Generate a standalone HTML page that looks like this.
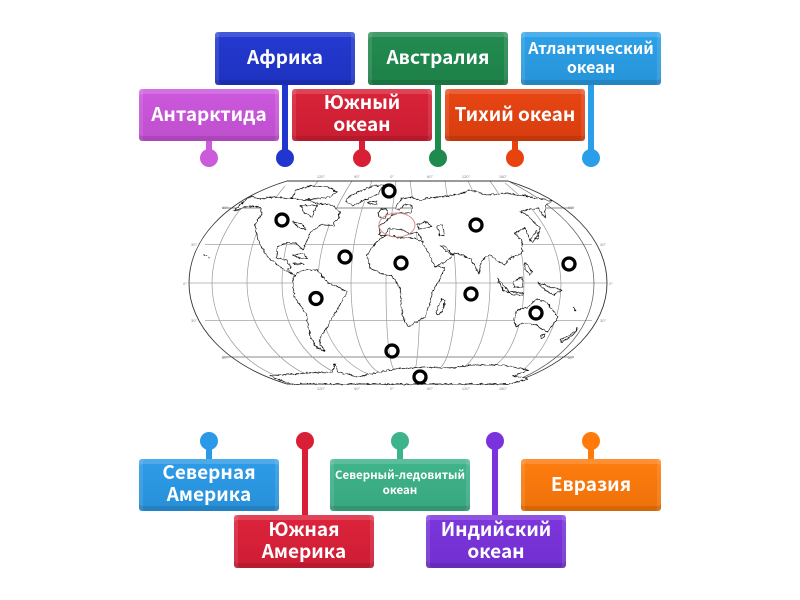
<!DOCTYPE html>
<html lang="ru"><head><meta charset="utf-8"><title>Карта мира</title>
<style>
html,body{margin:0;padding:0;background:#fff}
#p{position:relative;width:800px;height:600px;overflow:hidden;background:#fff;font-family:"Noto Sans CJK SC","Liberation Sans",sans-serif}
.b{position:absolute;width:140px;display:flex;align-items:center;justify-content:center;text-align:center;color:#fff;font-weight:700;border-radius:3px;box-sizing:border-box;padding-bottom:4px;
box-shadow:inset 0 5px 0 rgba(255,255,255,.15),inset 0 -5px 0 rgba(0,0,0,.1),inset 4px 0 0 rgba(255,255,255,.1),inset -4px 0 0 rgba(255,255,255,.1);
background-image:linear-gradient(rgba(255,255,255,.02),rgba(0,0,0,.07))}
.s{position:absolute;width:6px}
.d{position:absolute;width:18px;height:18px;border-radius:50%}
svg{position:absolute;left:0;top:0}
</style></head><body><div id="p">

<svg width="800" height="600" viewBox="0 0 800 600">
<defs>
<filter id="coast" x="170" y="170" width="450" height="225" filterUnits="userSpaceOnUse">
<feTurbulence type="fractalNoise" baseFrequency="0.3" numOctaves="2" seed="4" result="n"/>
<feDisplacementMap in="SourceGraphic" in2="n" scale="3.2" xChannelSelector="R" yChannelSelector="G"/>
<feGaussianBlur stdDeviation="0.2"/>
</filter>
</defs>
<g fill="none" stroke="#999" stroke-width=".7">
<path d="M189,283H607M205,244.5H592M205,320.5H592" stroke="#bbb" stroke-width="1"/>
<path d="M222,208H574M222,357H574" stroke="#666"/>
<path d="M252,195C225,225 212,255 212,283C212,325 240,362 277,376"/>
<path d="M285,186C260,215 247,250 247,283C247,325 275,365 320,380"/>
<path d="M318,181C295,210 282,245 282,283C282,325 305,365 350,378"/>
<path d="M352,181C330,215 318,250 318,283C318,325 335,360 368,374"/>
<path d="M372,181C358,215 351,250 351,283C351,325 360,360 378,372"/>
<path d="M396,181C392,215 386,250 386,283C386,325 388,360 394,370"/>
<path d="M410,181C415,215 419,250 420,283C420,325 418,360 415,370"/>
<path d="M445,181C450,215 455,250 456,283C456,325 450,360 440,368"/>
<path d="M468,181C485,215 490,250 490,283C490,325 478,360 462,368"/>
<path d="M490,181C515,215 524,250 524,283C524,325 510,360 490,368"/>
<path d="M505,183C545,215 560,250 561,283C561,325 540,362 505,384"/>
<path d="M510,182C565,210 594,245 594,283C594,325 565,362 510,383" stroke="#555"/>
</g>
<path d="M287,181H508C570,200 607,240 607,283C607,325 570,365 508,384H287C225,365 189,325 189,283C189,240 225,200 287,181Z" fill="none" stroke="#333" stroke-width=".9"/>

<g filter="url(#coast)" fill="#fff" stroke="#111" stroke-width=".75" stroke-linejoin="round">
<path d="M234,211L240,205L247,199L252,196L258,199L270,197L290,198L305,199L315,203L322,204L332,205L340,212L338,220L334,222L335,226L322,224L310,233L303,250L296,243L285,243L277,247L277,258L287,260L291,268L287,269L293,274L297,276L288,272L268,258L258,240L255,225L262,213L260,208L255,206L245,207Z"/>
<path d="M300,206L317,205L312,217L305,213Z"/>
<path d="M293,222L302,224L306,230L298,227Z"/>
<path d="M292,198L296,190L310,186L328,187L337,192L330,197L315,199L303,200Z"/>
<path d="M345,201L350,196L372,186L384,185L378,194L365,200L352,206Z"/>
<path d="M293,255L302,254L308,258L300,258ZM293,263L304,264L296,265Z"/>
<path d="M368,202L377,201L377,204L370,204Z"/>
<path d="M293,278L297,273L305,270L317,270L323,277L328,283L337,286L347,292L341,303L336,312L332,318L326,329L320,338L320,344L325,351L317,348L311,338L308,327L307,315L300,305L294,296Z"/>
<path d="M270,376L277,375L310,373L332,372L335,363L338,372L357,377L380,372L400,368L413,368L433,367L452,368L473,365L503,365L528,370L513,376L528,379L510,384H290Z"/>
<path d="M367,255L377,241L387,235L400,238L415,238L423,243L438,266L445,268L440,279L432,292L429,307L425,317L408,327L403,317L401,302L400,288L392,276L380,273L370,268Z"/>
<path d="M380,234L379,226L385,222L392,216L397,213L403,213L411,213L412,206L405,204L399,210L395,208L401,199L412,197L420,201L428,198L447,196L460,194L470,190L487,195L507,193L537,198L552,201L545,206L545,218L538,208L520,211L528,216L540,228L538,238L530,241L525,228L515,233L522,241L522,253L510,258L505,265L497,261L489,254L481,262L479,274L470,258L455,253L445,262L435,267L428,252L423,243L420,236L417,232L410,234L403,230L395,229L388,228L385,236L379,235Z"/>
<path d="M378,212L385,208L388,212L385,218L379,217Z"/>
<path d="M417,225L425,222L432,226L427,228L419,229Z"/>
<path d="M437,225L442,225L445,235L440,236Z"/>
<path d="M440,245L446,247L453,255L446,251Z"/>
<path d="M436,312L442,299L445,300L442,312L437,315Z"/>
<path d="M514,320L517,310L528,307L537,299L547,302L550,307L558,317L553,325L547,332L540,328L537,325L523,323L516,327Z"/>
<path d="M541,335L545,334L544,338L541,338Z"/>
<path d="M560,340L570,335L578,328L573,335L562,342Z"/>
<path d="M497,278L505,287L510,293L503,290Z"/>
<path d="M513,282L522,277L523,287L514,287Z"/>
<path d="M510,292L523,293L522,295L510,294Z"/>
<path d="M525,262L532,272L530,275L525,270Z"/>
<path d="M538,283L550,287L562,290L553,295L545,290Z"/>
<path d="M530,240L537,230L538,235L533,242Z"/>
<path d="M573,307L576,311M204,254L206,256M208,257L210,258" fill="none"/>
</g>

<ellipse cx="397" cy="225" rx="18" ry="12" fill="none" stroke="#d98a8a" stroke-width="1"/>

<g fill="#888" font-size="4" font-family="Liberation Sans,sans-serif" text-anchor="middle">
<text x="321" y="178">120°</text><text x="357" y="178">90°</text><text x="392" y="178">0°</text><text x="430" y="178">60°</text><text x="466" y="178">120°</text><text x="503" y="178">180°</text>
<text x="321" y="390">120°</text><text x="357" y="390">90°</text><text x="392" y="390">0°</text><text x="430" y="390">60°</text><text x="466" y="390">120°</text><text x="503" y="390">180°</text>
<text x="225" y="209">60°</text><text x="571" y="209">60°</text><text x="194" y="246">30°</text><text x="603" y="246">30°</text><text x="185" y="285">0°</text><text x="611" y="285">0°</text><text x="194" y="322">30°</text><text x="603" y="322">30°</text><text x="225" y="359">60°</text><text x="571" y="359">60°</text>
</g>

<g fill="none" stroke="#000" stroke-width="3.3">
<circle cx="282" cy="220" r="6"/><circle cx="389" cy="191" r="6"/><circle cx="345" cy="257" r="6"/><circle cx="316" cy="298.5" r="6"/><circle cx="392" cy="351" r="6"/><circle cx="420" cy="377" r="6"/><circle cx="401" cy="263" r="6"/><circle cx="476" cy="225" r="6"/><circle cx="471" cy="294" r="6"/><circle cx="569" cy="264" r="6"/><circle cx="536" cy="313" r="6"/>
</g>
</svg>

<div class="s" style="left:206px;top:141px;height:17px;background:#cc5bdc"></div><div class="d" style="left:200px;top:149px;background:#cc5bdc"></div>
<div class="s" style="left:282px;top:85px;height:73px;background:#2036cf"></div><div class="d" style="left:276px;top:149px;background:#2036cf"></div>
<div class="s" style="left:359px;top:141px;height:17px;background:#d91f35"></div><div class="d" style="left:353px;top:149px;background:#d91f35"></div>
<div class="s" style="left:435px;top:85px;height:73px;background:#1f8a4d"></div><div class="d" style="left:429px;top:149px;background:#1f8a4d"></div>
<div class="s" style="left:512px;top:141px;height:17px;background:#e8420f"></div><div class="d" style="left:506px;top:149px;background:#e8420f"></div>
<div class="s" style="left:588px;top:85px;height:73px;background:#2a9fe8"></div><div class="d" style="left:582px;top:149px;background:#2a9fe8"></div>
<div class="s" style="left:206px;top:441px;height:18px;background:#2a9ae8"></div><div class="d" style="left:200px;top:432px;background:#2a9ae8"></div>
<div class="s" style="left:302px;top:441px;height:74px;background:#d91f35"></div><div class="d" style="left:296px;top:432px;background:#d91f35"></div>
<div class="s" style="left:397px;top:441px;height:18px;background:#3cb388"></div><div class="d" style="left:391px;top:432px;background:#3cb388"></div>
<div class="s" style="left:492px;top:441px;height:74px;background:#7a32dd"></div><div class="d" style="left:486px;top:432px;background:#7a32dd"></div>
<div class="s" style="left:588px;top:441px;height:18px;background:#ff7a0a"></div><div class="d" style="left:582px;top:432px;background:#ff7a0a"></div>

<div class="b" style="left:215px;top:32px;height:53px;background-color:#2036cf;font-size:19px">Африка</div>
<div class="b" style="left:368px;top:32px;height:53px;background-color:#1f8a4d;font-size:19px">Австралия</div>
<div class="b" style="left:521px;top:32px;height:53px;background-color:#2a9fe8;font-size:16px;line-height:19px">Атлантический<br>океан</div>
<div class="b" style="left:139px;top:89px;height:52px;background-color:#cc55dd;font-size:19px">Антарктида</div>
<div class="b" style="left:292px;top:89px;height:52px;background-color:#d91f35;font-size:19px;line-height:22px">Южный<br>океан</div>
<div class="b" style="left:445px;top:89px;height:52px;background-color:#e8420f;font-size:19px">Тихий океан</div>
<div class="b" style="left:139px;top:459px;height:52px;background-color:#2a9ae8;font-size:19px;line-height:22px">Северная<br>Америка</div>
<div class="b" style="left:330px;top:459px;height:52px;background-color:#3cb388;font-size:11.5px;line-height:15px;white-space:nowrap">Северный-ледовитый<br>океан</div>
<div class="b" style="left:521px;top:459px;height:52px;background-color:#ff7a0a;font-size:19px">Евразия</div>
<div class="b" style="left:234px;top:515px;height:53px;background-color:#dc1f38;font-size:19px;line-height:22px">Южная<br>Америка</div>
<div class="b" style="left:426px;top:515px;height:53px;background-color:#7a32dd;font-size:19px;line-height:22px">Индийский<br>океан</div>

</div></body></html>
